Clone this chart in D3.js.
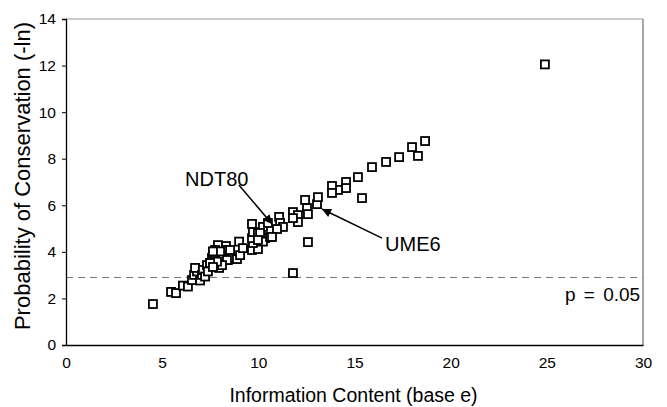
<!DOCTYPE html>
<html><head><meta charset="utf-8">
<script src="https://cdn.jsdelivr.net/npm/d3@7"></script>
<style>body{margin:0;background:#fff;} svg{display:block;} text{font-family:"Liberation Sans",Arial,sans-serif;fill:#000;}</style>
</head><body><svg id="c" width="667" height="407"></svg>
<script>
const xTicks=[0,5,10,15,20,25,30];
const yTicks=[0,2,4,6,8,10,12,14];
const infoContent=[4.52,5.46,5.72,6.08,6.34,6.55,6.66,6.81,6.71,6.97,7.07,7.12,7.23,7.33,7.38,7.49,7.59,7.64,7.90,7.75,8.01,8.11,7.96,7.85,8.16,8.32,8.37,8.53,8.42,8.63,8.89,9.05,9.00,9.20,9.67,9.98,9.72,9.67,9.72,9.98,10.35,10.24,9.67,10.24,10.50,11.08,11.13,11.28,10.97,10.09,10.61,9.98,11.80,12.06,12.06,12.43,12.53,12.58,13.05,13.10,12.58,11.80,10.71,18.67,17.99,18.30,17.32,16.64,15.91,15.18,14.56,14.56,14.14,13.83,13.83,15.39,24.9,8.53,8.01,7.64,7.75,8.37,8.11,7.85,7.49,7.64,11.80];
const conservation=[1.76,2.28,2.23,2.55,2.51,2.79,3.01,3.16,3.31,2.77,3.01,3.22,2.94,3.43,3.16,3.52,3.74,3.95,4.29,4.08,3.82,3.59,3.31,3.52,3.80,4.25,4.08,3.86,3.65,3.74,3.69,3.86,4.44,4.16,4.08,4.12,4.38,4.59,4.85,4.81,4.59,4.44,5.20,5.07,5.24,5.50,5.24,5.07,4.98,4.81,4.64,4.51,5.71,5.58,5.28,6.23,5.88,5.62,6.05,6.35,4.42,3.09,4.64,8.76,8.50,8.12,8.07,7.86,7.64,7.21,7.00,6.74,6.66,6.83,6.53,6.31,12.05,4.08,4.02,4.02,3.65,3.65,3.43,3.58,3.52,3.35,5.45];
const threshold=2.9;
const thresholdLabel="p = 0.05";
const annotations=[
 {label:"NDT80",tx:6.19,ty:6.83,x1:8.99,y1:6.87,x2:10.71,y2:5.20,anchor:"start"},
 {label:"UME6",tx:16.59,ty:4.04,x1:16.43,y1:4.59,x2:13.31,y2:5.84,anchor:"start"}
];
const xTitle="Information Content (base e)";
const yTitle="Probability of Conservation (-ln)";

const svg=d3.select("#c");
const L=66,R=643,T=19,B=345;
const x=d3.scaleLinear().domain([0,30]).range([L,R]);
const y=d3.scaleLinear().domain([0,14]).range([B,T]);

// plot frame top/right
svg.append("line").attr("x1",L).attr("x2",R).attr("y1",T).attr("y2",T).attr("stroke","#999").attr("stroke-width",1.2);
svg.append("line").attr("x1",R).attr("x2",R).attr("y1",T).attr("y2",B).attr("stroke","#888").attr("stroke-width",1.5);

// threshold
svg.append("line").attr("x1",x(0)).attr("x2",x(30)).attr("y1",y(threshold)).attr("y2",y(threshold))
 .attr("stroke","#777").attr("stroke-width",1).attr("stroke-dasharray","7,5");
svg.append("text").attr("x",x(29.85)).attr("y",y(1.89)).attr("text-anchor","end").attr("font-size",19)
 .attr("word-spacing",3).text(thresholdLabel);

const xa=svg.append("g").attr("transform",`translate(0,${B})`).call(d3.axisBottom(x).tickValues(xTicks).tickSize(0).tickPadding(12).tickFormat(d3.format("d")));
const ya=svg.append("g").attr("transform",`translate(${L},0)`).call(d3.axisLeft(y).tickValues(yTicks).tickSize(4).tickPadding(6).tickFormat(d3.format("d")));
[xa,ya].forEach(a=>{a.select(".domain").attr("stroke","#000").attr("stroke-width",1.3);a.selectAll("line").attr("stroke","#000");a.selectAll("text").attr("font-size",15.5).attr("font-family","Liberation Sans, Arial, sans-serif");});

svg.append("text").attr("x",(L+R)/2-1).attr("y",402).attr("text-anchor","middle").attr("font-size",19.5).text(xTitle);
svg.append("text").attr("transform",`translate(30,176) rotate(-90)`).attr("text-anchor","middle").attr("font-size",22).text(yTitle);

// points
const pts=infoContent.map((v,i)=>({x:v,y:conservation[i]}));
svg.append("g").selectAll("rect").data(pts).join("rect")
 .attr("x",d=>x(d.x)-4).attr("y",d=>y(d.y)-4).attr("width",8).attr("height",8)
 .attr("fill","#fff").attr("stroke","#000").attr("stroke-width",1.8);

// arrows
svg.append("defs").append("marker").attr("id","ah").attr("viewBox","0 0 10 10").attr("refX",10).attr("refY",5)
 .attr("markerWidth",7).attr("markerHeight",6).attr("markerUnits","strokeWidth").attr("orient","auto")
 .append("path").attr("d","M0,0 L10,5 L0,10 Z").attr("fill","#000");
annotations.forEach(a=>{
 svg.append("line").attr("x1",x(a.x1)).attr("y1",y(a.y1)).attr("x2",x(a.x2)).attr("y2",y(a.y2))
  .attr("stroke","#000").attr("stroke-width",1.5).attr("marker-end","url(#ah)");
 svg.append("text").attr("x",x(a.tx)).attr("y",y(a.ty)).attr("text-anchor",a.anchor).attr("font-size",20).text(a.label);
});
</script></body></html>
